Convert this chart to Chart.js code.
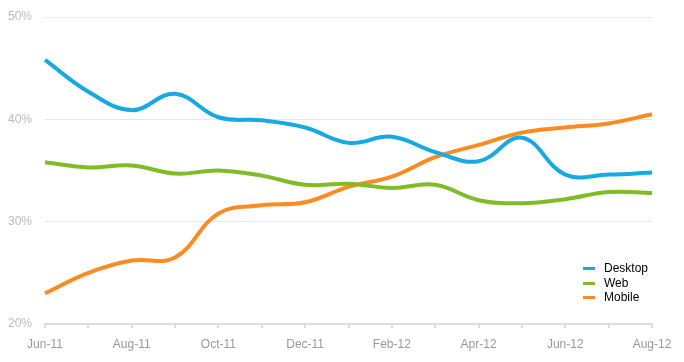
<!DOCTYPE html>
<html>
<head>
<meta charset="utf-8">
<script src="https://cdn.jsdelivr.net/npm/chart.js@4/dist/chart.umd.min.js"></script>
<style>
  body { margin: 0; background: #fff; }
  #wrap { position: relative; width: 684px; height: 362px; }
  #legend { position: absolute; left: 583px; top: 261px; font: 12px "Liberation Sans", Arial, sans-serif; color: #000; }
  #legend div { height: 14.5px; line-height: 14.5px; white-space: nowrap; }
  #legend span.sw { display: inline-block; width: 12px; height: 3px; vertical-align: middle; margin-right: 9px; }
</style>
</head>
<body>
<div id="wrap">
  <canvas id="usageChart" width="684" height="362"></canvas>
  <div id="legend"></div>
</div>
<script>
var months = ['Jun-11', 'Jul-11', 'Aug-11', 'Sep-11', 'Oct-11', 'Nov-11', 'Dec-11', 'Jan-12',
              'Feb-12', 'Mar-12', 'Apr-12', 'May-12', 'Jun-12', 'Jul-12', 'Aug-12'];
var desktop = [45.8, 42.7, 40.9, 42.5, 40.2, 39.9, 39.2, 37.7, 38.3, 36.8, 35.9, 38.2, 34.6, 34.6, 34.8];
var web     = [35.8, 35.3, 35.5, 34.7, 35.0, 34.5, 33.6, 33.7, 33.3, 33.6, 32.1, 31.8, 32.2, 32.9, 32.8];
var mobile  = [23.0, 25.0, 26.2, 26.5, 30.8, 31.6, 31.9, 33.4, 34.4, 36.3, 37.5, 38.7, 39.2, 39.6, 40.5];
var yTicks  = [20, 30, 40, 50];

var font = '"Liberation Sans", Arial, sans-serif';

var ctx = document.getElementById('usageChart').getContext('2d');
var chart = new Chart(ctx, {
    type: 'line',
    data: {
        labels: months,
        datasets: [
            { label: 'Desktop', data: desktop, borderColor: '#17a9e3' },
            { label: 'Web', data: web, borderColor: '#7fbc25' },
            { label: 'Mobile', data: mobile, borderColor: '#fd8b22' }
        ]
    },
    options: {
        responsive: false,
        animation: false,
        layout: { padding: { top: 17, right: 32, left: 0, bottom: 0 } },
        elements: {
            line: { borderWidth: 4, tension: 0.4, fill: false, borderCapStyle: 'butt' },
            point: { radius: 0 }
        },
        plugins: {
            legend: { display: false },
            tooltip: { enabled: false }
        },
        scales: {
            x: {
                offset: false,
                border: { color: '#dddddd', width: 2 },
                grid: { drawOnChartArea: false, drawTicks: true, tickLength: 4, color: '#dddddd', lineWidth: 2 },
                ticks: {
                    autoSkip: false,
                    maxRotation: 0,
                    padding: 9,
                    color: '#999999',
                    font: { family: font, size: 12 },
                    callback: function(value, index) {
                        return index % 2 === 0 ? months[index] : '';
                    }
                },
                afterFit: function(scale) {
                    scale.height = 38;
                    scale.paddingLeft = 0;
                    scale.paddingRight = 0;
                }
            },
            y: {
                min: 20,
                max: 50,
                border: { display: false },
                grid: { drawTicks: false, color: '#e6e6e6' },
                afterBuildTicks: function(scale) {
                    scale.ticks = yTicks.map(function(v) { return { value: v }; });
                },
                ticks: {
                    padding: 13,
                    color: '#bbbbbb',
                    font: { family: font, size: 12 },
                    callback: function(value) { return value + '%'; }
                },
                afterFit: function(scale) {
                    scale.width = 45;
                    scale.paddingTop = 0;
                    scale.paddingBottom = 0;
                }
            }
        }
    }
});

// Leyenda en la esquina inferior derecha
var legendEl = document.getElementById('legend');
chart.data.datasets.forEach(function(ds) {
    var row = document.createElement('div');
    row.innerHTML = '<span class="sw" style="background:' + ds.borderColor + '"></span>' + ds.label;
    legendEl.appendChild(row);
});
</script>
</body>
</html>
